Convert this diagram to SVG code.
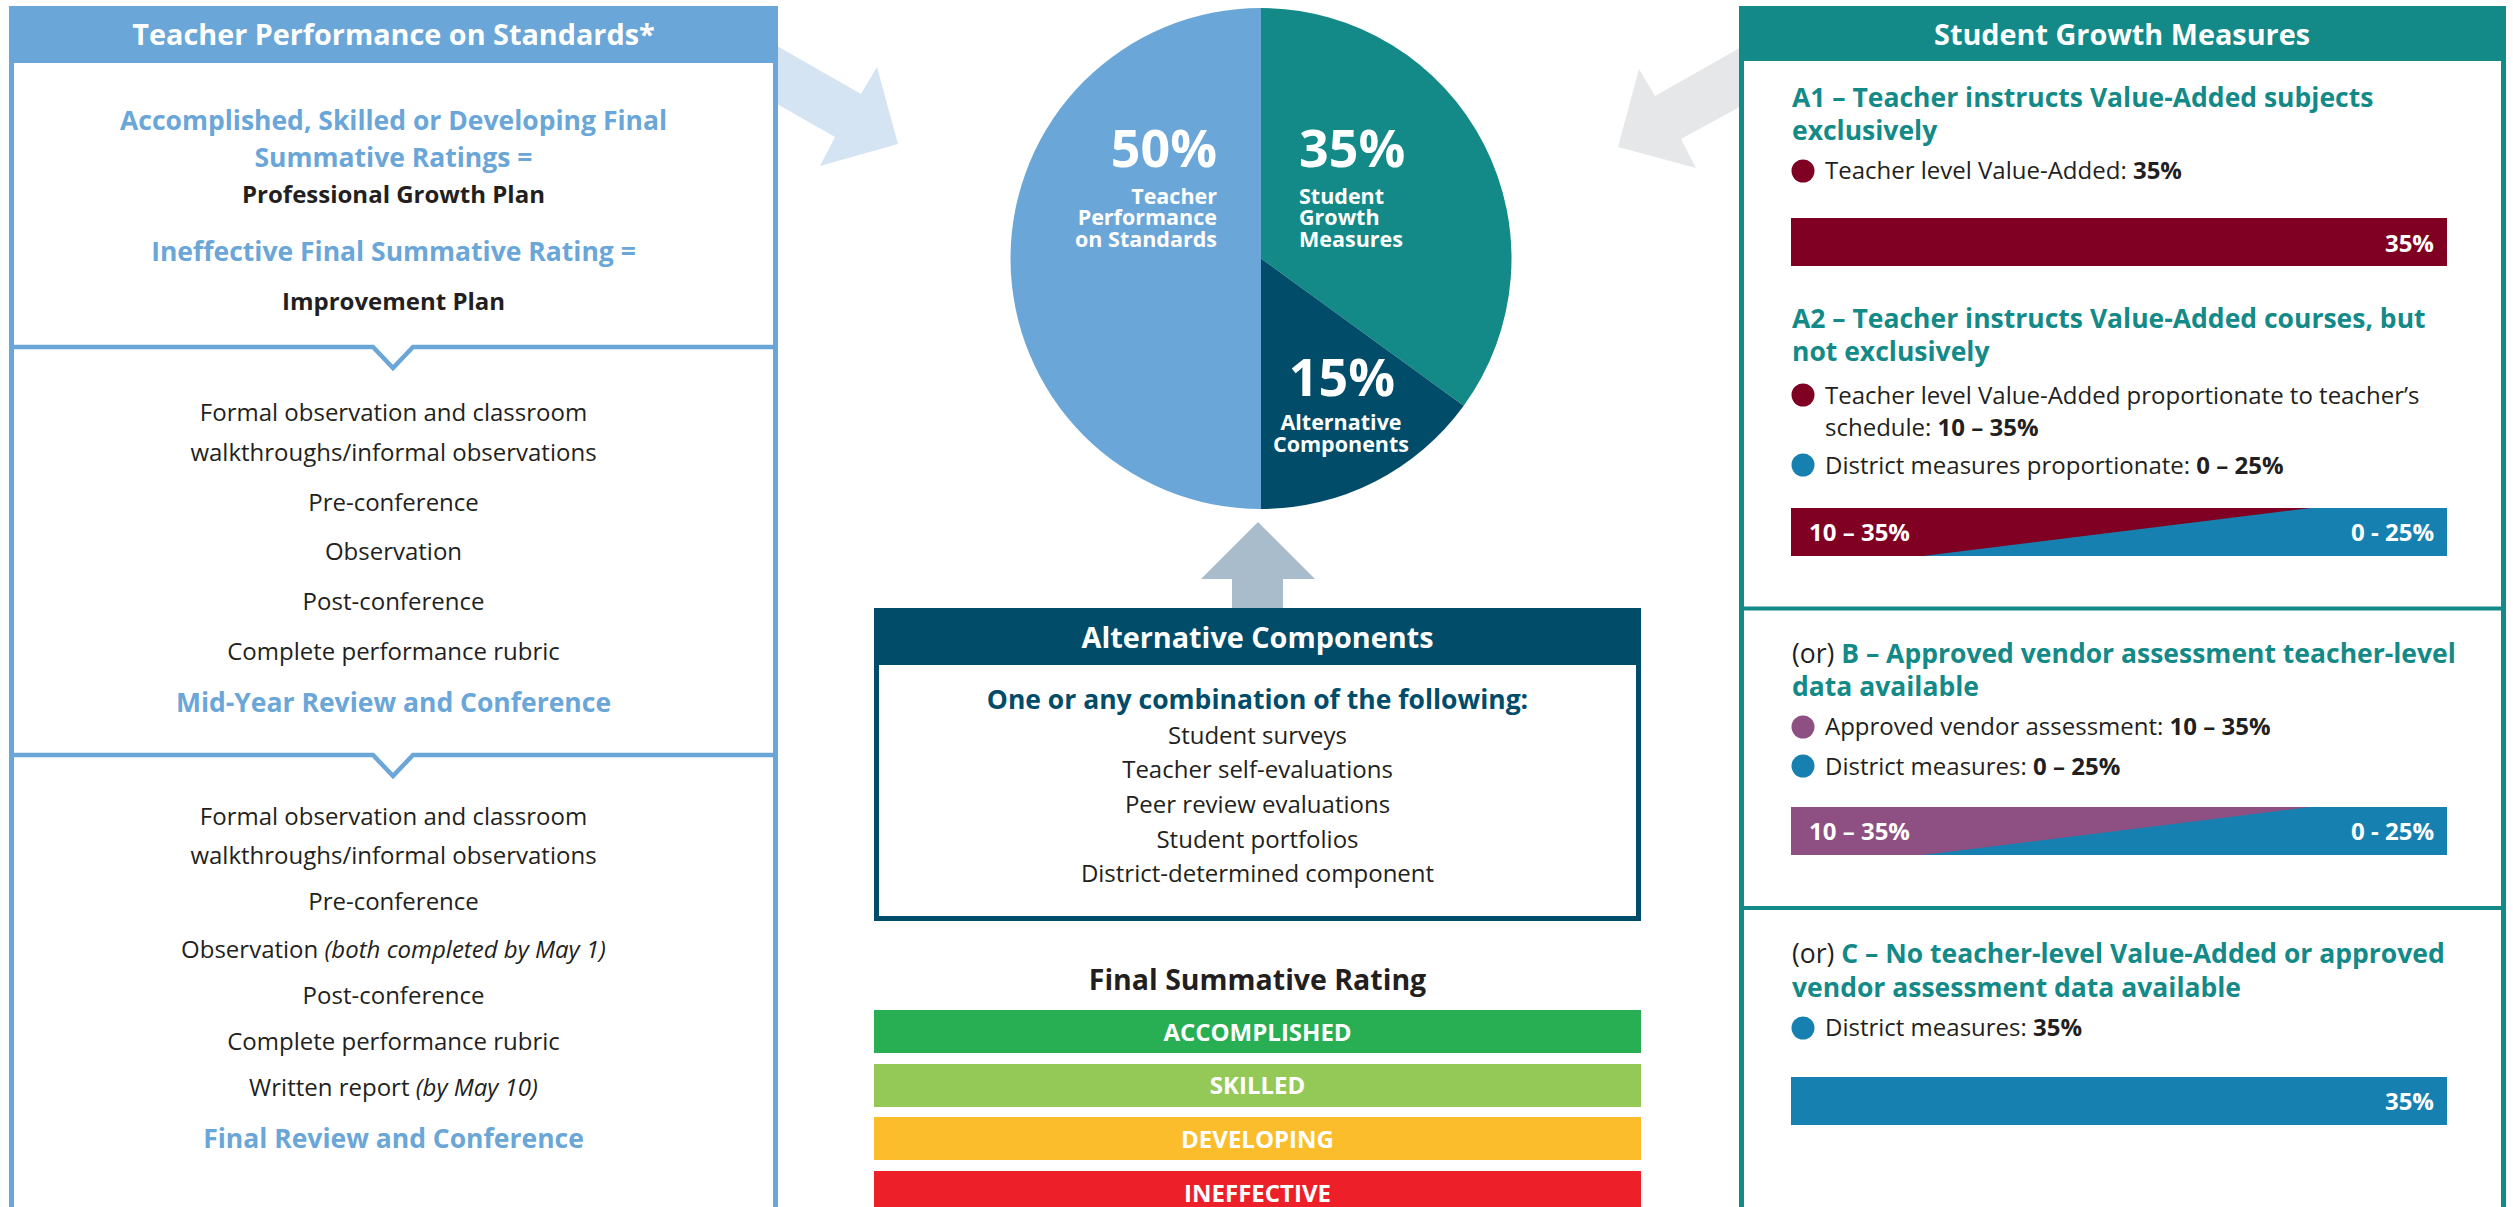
<svg xmlns="http://www.w3.org/2000/svg" width="2513" height="1207" viewBox="0 0 2513 1207">
<style>
text{font-family:"Open Sans","Liberation Sans",sans-serif}
.c{text-anchor:middle}
.e{text-anchor:end}
.hd{font-size:28.8px;font-weight:700;fill:#fff}
.hb{font-size:26.5px;font-weight:700;fill:#6aa6d7}
.ht{font-size:26.5px;font-weight:700;fill:#138a87}
.hn{font-size:26.5px;font-weight:700;fill:#004c69}
.bd{font-size:24px;fill:#231f20}
.bb{font-size:24px;font-weight:700;fill:#231f20}
.bw{font-size:24px;font-weight:700;fill:#fff}
.pw{font-weight:700;fill:#fff}
.it{font-style:italic}
.k{font-weight:700}
.rg{font-weight:400;fill:#231f20}
.lb{fill:none;stroke:#6aa6d7;stroke-width:4.5}
.tl{fill:none;stroke:#138a87;stroke-width:4}
</style>
<rect width="2513" height="1207" fill="#fff"/>
<g id="connectors">
<polygon points="770,42 861,94 877,67 898,144 820,166 835,137 770,100" fill="#d5e4f3"/>
<polygon points="1745,45 1655,96 1639,69 1618,147 1696,168 1681,139 1745,104" fill="#e6e7e8"/>
<polygon points="1258,522 1315,579 1283,579 1283,610 1232,610 1232,579 1201,579" fill="#a9bccc"/>
</g>
<g id="teacher-performance">
<rect x="11.5" y="8.5" width="764" height="1220" fill="#fff" stroke="#6aa6d7" stroke-width="5"/>
<rect x="9" y="6" width="769" height="57" fill="#6aa6d7"/>
<text class="c hd" x="393.5" y="45">Teacher Performance on Standards*</text>
<text class="c hb" x="393.5" y="130">Accomplished, Skilled or Developing Final</text>
<text class="c hb" x="393.5" y="166.5">Summative Ratings =</text>
<text class="c bb" x="393.5" y="203">Professional Growth Plan</text>
<text class="c hb" x="393.5" y="261">Ineffective Final Summative Rating =</text>
<text class="c bb" x="393.5" y="310">Improvement Plan</text>
<path class="lb" d="M14 347 H373 L393 368 L413 347 H773"/>
<text class="c bd" x="393.5" y="421">Formal observation and classroom</text>
<text class="c bd" x="393.5" y="461">walkthroughs/informal observations</text>
<text class="c bd" x="393.5" y="511">Pre-conference</text>
<text class="c bd" x="393.5" y="560">Observation</text>
<text class="c bd" x="393.5" y="610">Post-conference</text>
<text class="c bd" x="393.5" y="660">Complete performance rubric</text>
<text class="c hb" x="393.5" y="712">Mid-Year Review and Conference</text>
<path class="lb" d="M14 755 H373 L393 776 L413 755 H773"/>
<text class="c bd" x="393.5" y="825">Formal observation and classroom</text>
<text class="c bd" x="393.5" y="864">walkthroughs/informal observations</text>
<text class="c bd" x="393.5" y="910">Pre-conference</text>
<text class="c bd" x="393.5" y="958">Observation <tspan class="it">(both completed by May 1)</tspan></text>
<text class="c bd" x="393.5" y="1004">Post-conference</text>
<text class="c bd" x="393.5" y="1050">Complete performance rubric</text>
<text class="c bd" x="393.5" y="1096">Written report <tspan class="it">(by May 10)</tspan></text>
<text class="c hb" x="393.5" y="1148">Final Review and Conference</text>
</g>
<g id="pie">
<path d="M1261 258.5 V8 A250.5 250.5 0 0 0 1261 509 Z" fill="#6aa6d7"/>
<path d="M1261 258.5 V8 A250.5 250.5 0 0 1 1463.7 405.7 Z" fill="#138a87"/>
<path d="M1261 258.5 L1463.7 405.7 A250.5 250.5 0 0 1 1261 509 Z" fill="#004c69"/>
<text class="e pw" x="1217" y="167" font-size="52">50%</text>
<text class="e pw" x="1217" y="203.5" font-size="21.5">Teacher</text>
<text class="e pw" x="1217" y="225" font-size="21.5">Performance</text>
<text class="e pw" x="1217" y="246.5" font-size="21.5">on Standards</text>
<text class="pw" x="1299" y="167" font-size="52">35%</text>
<text class="pw" x="1299" y="203.5" font-size="21.5">Student</text>
<text class="pw" x="1299" y="225" font-size="21.5">Growth</text>
<text class="pw" x="1299" y="246.5" font-size="21.5">Measures</text>
<text class="c pw" x="1342" y="396" font-size="52">15%</text>
<text class="c pw" x="1341" y="430" font-size="21.5">Alternative</text>
<text class="c pw" x="1341" y="452" font-size="21.5">Components</text>
</g>
<g id="alternative-components">
<rect x="876.5" y="610.5" width="762" height="308" fill="#fff" stroke="#004c69" stroke-width="5"/>
<rect x="874" y="608" width="767" height="57" fill="#004c69"/>
<text class="c hd" x="1257.5" y="648">Alternative Components</text>
<text class="c hn" x="1257.5" y="709">One or any combination of the following:</text>
<text class="c bd" x="1257.5" y="744">Student surveys</text>
<text class="c bd" x="1257.5" y="778">Teacher self-evaluations</text>
<text class="c bd" x="1257.5" y="813">Peer review evaluations</text>
<text class="c bd" x="1257.5" y="848">Student portfolios</text>
<text class="c bd" x="1257.5" y="882">District-determined component</text>
</g>
<g id="final-summative-rating">
<text class="c" x="1257.5" y="990" font-size="28.5" font-weight="700" fill="#231f20">Final Summative Rating</text>
<rect x="874" y="1010" width="767" height="43" fill="#28ae53"/>
<text class="c bw" x="1257.5" y="1041">ACCOMPLISHED</text>
<rect x="874" y="1064" width="767" height="43" fill="#95c957"/>
<text class="c bw" x="1257.5" y="1094">SKILLED</text>
<rect x="874" y="1117" width="767" height="43" fill="#fbbd2c"/>
<text class="c bw" x="1257.5" y="1148">DEVELOPING</text>
<rect x="874" y="1171" width="767" height="43" fill="#ed1f28"/>
<text class="c bw" x="1257.5" y="1202">INEFFECTIVE</text>
</g>
<g id="student-growth-measures">
<rect x="1741.5" y="8.5" width="762" height="1220" fill="#fff" stroke="#138a87" stroke-width="5"/>
<rect x="1739" y="6" width="767" height="55" fill="#138a87"/>
<text class="c hd" x="2122" y="45">Student Growth Measures</text>
<text class="ht" x="1792" y="106.5">A1 – Teacher instructs Value-Added subjects</text>
<text class="ht" x="1792" y="139.5">exclusively</text>
<circle cx="1803" cy="171" r="11.5" fill="#7f0023"/>
<text class="bd" x="1825" y="179">Teacher level Value-Added: <tspan class="k">35%</tspan></text>
<rect x="1791" y="218" width="656" height="48" fill="#7f0023"/>
<text class="e bw" x="2434" y="251.5">35%</text>
<text class="ht" x="1792" y="327.5">A2 – Teacher instructs Value-Added courses, but</text>
<text class="ht" x="1792" y="360.5">not exclusively</text>
<circle cx="1803" cy="395" r="11.5" fill="#7f0023"/>
<text class="bd" x="1825" y="404">Teacher level Value-Added proportionate to teacher’s</text>
<text class="bd" x="1825" y="435.5">schedule: <tspan class="k">10 – 35%</tspan></text>
<circle cx="1803" cy="465" r="11.5" fill="#1681b1"/>
<text class="bd" x="1825" y="474">District measures proportionate: <tspan class="k">0 – 25%</tspan></text>
<rect x="1791" y="508" width="656" height="48" fill="#7f0023"/>
<polygon points="1923,556 2311,508 2447,508 2447,556" fill="#1681b1"/>
<text class="bw" x="1809" y="541">10 – 35%</text>
<text class="e bw" x="2434" y="541">0 - 25%</text>
<path class="tl" d="M1741 608.5 H2504"/>
<text class="ht" x="1792" y="663"><tspan class="rg">(or) </tspan>B – Approved vendor assessment teacher-level</text>
<text class="ht" x="1792" y="696">data available</text>
<circle cx="1803" cy="727" r="11.5" fill="#8e4f83"/>
<text class="bd" x="1825" y="735">Approved vendor assessment: <tspan class="k">10 – 35%</tspan></text>
<circle cx="1803" cy="766" r="11.5" fill="#1681b1"/>
<text class="bd" x="1825" y="774.5">District measures: <tspan class="k">0 – 25%</tspan></text>
<rect x="1791" y="807" width="656" height="48" fill="#8e4f83"/>
<polygon points="1923,855 2311,807 2447,807 2447,855" fill="#1681b1"/>
<text class="bw" x="1809" y="840">10 – 35%</text>
<text class="e bw" x="2434" y="840">0 - 25%</text>
<path class="tl" d="M1741 908 H2504"/>
<text class="ht" x="1792" y="963"><tspan class="rg">(or) </tspan>C – No teacher-level Value-Added or approved</text>
<text class="ht" x="1792" y="997">vendor assessment data available</text>
<circle cx="1803" cy="1028" r="11.5" fill="#1681b1"/>
<text class="bd" x="1825" y="1036">District measures: <tspan class="k">35%</tspan></text>
<rect x="1791" y="1077" width="656" height="48" fill="#1681b1"/>
<text class="e bw" x="2434" y="1110">35%</text>
</g>
</svg>
